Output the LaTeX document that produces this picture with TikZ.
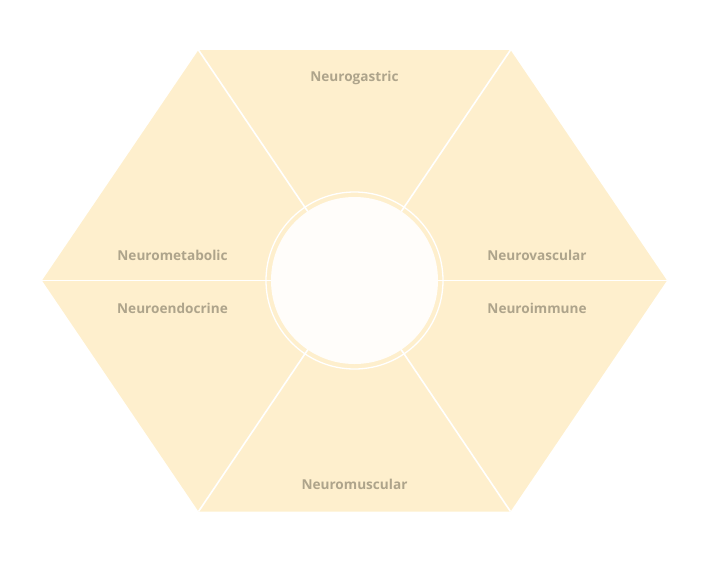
\documentclass[tikz,border=0pt]{standalone}
\usepackage{fontspec}
\setmainfont{Open Sans}
\usepackage{tikz}
\usetikzlibrary{calc}

\definecolor{hexfill}{HTML}{FEEFCD}
\definecolor{hubfill}{HTML}{FFFDFA}
\definecolor{labeltext}{HTML}{AEA48B}

\tikzset{
  divider/.style={draw=white, line width=1.6pt},
  sector label/.style={text=labeltext, font=\fontsize{13.6}{16}\selectfont\bfseries, inner sep=0pt}
}

\begin{document}
\begin{tikzpicture}[x=1pt,y=-1pt]
  \useasboundingbox (0,0) rectangle (709,560);

  \coordinate (hub) at (354.5,280.5);
  \coordinate (v-1) at (198.5,50);
  \coordinate (v-2) at (510.5,50);
  \coordinate (v-3) at (667,280.5);
  \coordinate (v-4) at (510.5,511.5);
  \coordinate (v-5) at (198.5,511.5);
  \coordinate (v-6) at (42,280.5);

  \fill[hexfill] (v-1) -- (v-2) -- (v-3) -- (v-4) -- (v-5) -- (v-6) -- cycle;

  \foreach \v in {1,...,6} {\path[divider] (hub) -- (v-\v);};

  \draw[white, line width=1.3pt] (hub) circle[radius=88.5];
  \fill[hubfill] (hub) circle[radius=83.5];

  \node[sector label] (gastric)   at (354.5,77.5)  {Neurogastric};
  \node[sector label] (metabolic) at (172.5,255.5) {Neurometabolic};
  \node[sector label] (vascular)  at (537,255.5)   {Neurovascular};
  \node[sector label] (endocrine) at (172.5,308.5) {Neuroendocrine};
  \node[sector label] (immune)    at (537,308.5)   {Neuroimmune};
  \node[sector label] (muscular)  at (354.5,484.5) {Neuromuscular};
\end{tikzpicture}
\end{document}
